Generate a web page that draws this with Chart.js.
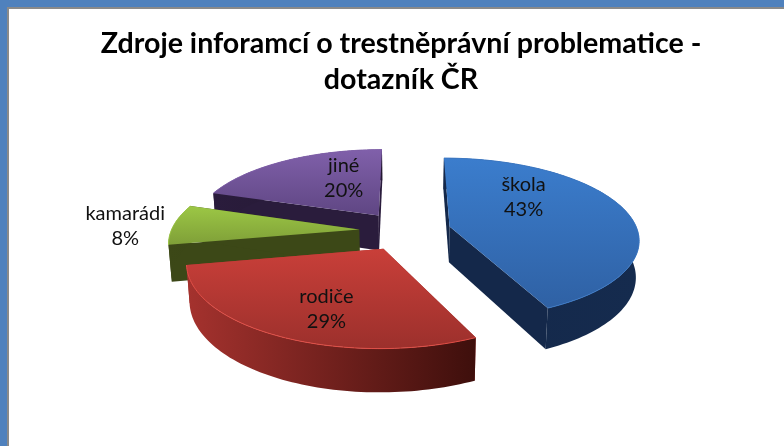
<!DOCTYPE html>
<html>
<head>
<meta charset="utf-8">
<script src="https://cdn.jsdelivr.net/npm/chart.js@4"></script>
<style>
  html, body { margin: 0; padding: 0; background: #fff; overflow: hidden; }
  #frame { position: absolute; left: 0; top: 0; width: 784px; height: 446px; box-sizing: border-box;
    border-top: 7px solid #4f81bd; border-left: 7px solid #4f81bd; }
  #inner { position: absolute; left: 7px; top: 7px; right: 0; bottom: 0; border-top: 2px solid #8a8a8a; border-left: 2px solid #8a8a8a; }
  canvas { position: absolute; left: 0; top: 0; filter: blur(0.45px); }
</style>
</head>
<body>
<div id="frame"></div>
<div id="inner"></div>
<canvas id="resultado" width="784" height="446"></canvas>
<script>
const categories = ['škola', 'rodiče', 'kamarádi', 'jiné']
const values = [43, 29, 8, 20]
const titleLines = ['Zdroje inforamcí o trestněprávní problematice -', 'dotazník ČR']

// top face gradient, wall colours
const faceTop = ['#3b7dcd', '#c93f39', '#9cc745', '#8060aa']
const faceBottom = ['#2f61a4', '#9c302c', '#7f9f38', '#5f4683']
const wallLeft = ['#14284a', '#a5322e', '#3c4817', '#2a1c3c']
const wallRight = ['#152b4e', '#3e0f0c', '#343f14', '#241832']
const rim = ['#3b78c4', '#e04e46', '#9cc745', '#8060aa']

// label position relative to the tip of the slice
const labelShift = [[74, -42], [-57, 48], [-234, -16], [-35, -50]]

// flat pie -> screen
const P = 0.000776
const Q = 0.4232
const DEPTH = 36
const SHRINK = 0.986
const SHIFT_X = 4

function project(cx, cy, fx, fy) {
  const s = 1 / (1 - P * fy)
  return { x: cx + SHIFT_X + fx * s, y: cy + fy * Q * s, s: s, cx: cx + SHIFT_X }
}

function arcPoints(cx, cy, ox, oy, r, a0, a1) {
  const pts = []
  const n = Math.max(4, Math.ceil(Math.abs(a1 - a0) * 40))
  for (let i = 0; i <= n; i++) {
    const t = a0 + (a1 - a0) * i / n
    pts.push(project(cx, cy, ox + r * Math.cos(t), oy + r * Math.sin(t)))
  }
  return pts
}

function poly(ctx, pts, fill) {
  ctx.beginPath()
  pts.forEach((p, i) => i ? ctx.lineTo(p.x, p.y) : ctx.moveTo(p.x, p.y))
  ctx.closePath()
  ctx.fillStyle = fill
  ctx.fill()
}

const down = p => ({ x: p.cx + (p.x - p.cx) * SHRINK, y: p.y + DEPTH * p.s })

const pie3d = {
  id: 'pie3d',
  beforeDatasetDraw(chart, args) {
    const ctx = chart.ctx
    const arcs = chart.getDatasetMeta(args.index).data
    // far slices first
    for (const i of [3, 2, 1, 0]) {
      const arc = arcs[i]
      const { x, y, startAngle, endAngle, outerRadius } = arc.getProps(['x', 'y', 'startAngle', 'endAngle', 'outerRadius'])
      const mid = (startAngle + endAngle) / 2
      const ox = arc.options.offset * Math.cos(mid)
      const oy = arc.options.offset * Math.sin(mid)
      const tip = project(x, y, ox, oy)
      const edge = arcPoints(x, y, ox, oy, outerRadius, startAngle, endAngle)

      const xs = edge.map(p => p.x).concat(tip.x)
      const ys = edge.map(p => p.y).concat(tip.y)
      const minX = Math.min(...xs), maxX = Math.max(...xs)
      const minY = Math.min(...ys), maxY = Math.max(...ys)

      // cut walls
      poly(ctx, [tip, edge[0], down(edge[0]), down(tip)], wallLeft[i])
      poly(ctx, [tip, edge[edge.length - 1], down(edge[edge.length - 1]), down(tip)], wallLeft[i])

      // outer wall
      const wg = ctx.createLinearGradient(minX, 0, maxX, 0)
      wg.addColorStop(0, wallLeft[i])
      wg.addColorStop(1, wallRight[i])
      poly(ctx, edge.concat(edge.map(down).reverse()), wg)

      // top
      const fg = ctx.createLinearGradient(0, minY, 0, maxY)
      fg.addColorStop(0, faceTop[i])
      fg.addColorStop(1, faceBottom[i])
      poly(ctx, [tip].concat(edge), fg)

      ctx.beginPath()
      edge.forEach((p, k) => k ? ctx.lineTo(p.x, p.y) : ctx.moveTo(p.x, p.y))
      ctx.strokeStyle = rim[i]
      ctx.lineWidth = 1
      ctx.stroke()
    }

    // labels
    ctx.font = '20px Lato'
    ctx.fillStyle = '#111'
    ctx.textAlign = 'center'
    ctx.textBaseline = 'middle'
    arcs.forEach((arc, i) => {
      const { x, y, startAngle, endAngle } = arc.getProps(['x', 'y', 'startAngle', 'endAngle'])
      const mid = (startAngle + endAngle) / 2
      const tip = project(x, y, arc.options.offset * Math.cos(mid), arc.options.offset * Math.sin(mid))
      const lx = tip.x + labelShift[i][0]
      const ly = tip.y + labelShift[i][1]
      ctx.fillText(categories[i], lx, ly)
      ctx.fillText(values[i] + '%', lx, ly + 25)
    })
    return false
  }
}

let myChart = new Chart(document.getElementById('resultado'), {
  type: 'pie',
  data: {
    labels: categories,
    datasets: [{ data: values, offset: 46, borderWidth: 0, backgroundColor: faceTop }]
  },
  options: {
    responsive: false,
    animation: false,
    radius: 188,
    layout: { padding: { left: 18, bottom: 88 } },
    plugins: {
      legend: { display: false },
      tooltip: { enabled: false },
      title: {
        display: true,
        text: titleLines,
        color: '#000',
        font: { family: 'Lato', size: 28.6, weight: 'bold', lineHeight: 1.25 },
        padding: { top: 26, bottom: 6 }
      }
    }
  },
  plugins: [pie3d]
})
</script>
</body>
</html>
